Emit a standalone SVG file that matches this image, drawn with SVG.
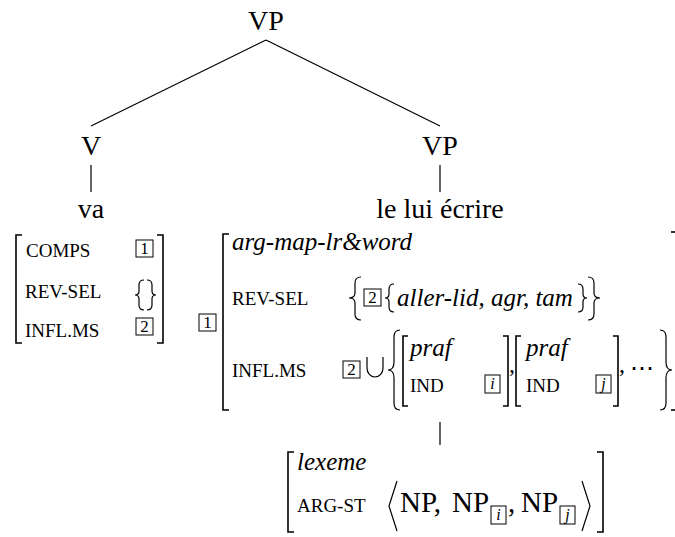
<svg xmlns="http://www.w3.org/2000/svg" width="675" height="537" viewBox="0 0 675 537" font-family="'Liberation Serif', 'Times New Roman', Tinos, 'DejaVu Serif', serif">
<style>
text{font-family:"Liberation Serif","Times New Roman",Tinos,"DejaVu Serif",serif;fill:#000}
.t{font-size:28px;text-anchor:middle}
.sc{font-size:19px}
.it{font-size:25px;font-style:italic}
.np{font-size:29px}
.bn{font-size:17px;text-anchor:middle}
.bi{font-size:16px;text-anchor:middle;font-style:italic}
.cu{font-family:"DejaVu Sans",sans-serif;font-size:26px}
.ln{stroke:#000;stroke-width:1.2;fill:none}
.br{stroke:#000;stroke-width:1.6;fill:none}
.bx{stroke:#000;stroke-width:1;fill:none}
</style>
<g id="connectors">
<line class="ln" x1="266" y1="40" x2="91" y2="126"/>
<line class="ln" x1="266" y1="40" x2="440" y2="126"/>
<line class="ln" x1="91" y1="165" x2="91" y2="192"/>
<line class="ln" x1="440" y1="165" x2="440" y2="192"/>
<line class="ln" x1="440" y1="422" x2="440" y2="445"/>
</g>
<g id="vp-top"><text class="t" x="266" y="30">VP</text></g>
<g id="v"><text class="t" x="91" y="155">V</text></g>
<g id="vp-right"><text class="t" x="440" y="155">VP</text></g>
<g id="va"><text class="t" x="91" y="218">va</text></g>
<g id="le-lui-ecrire"><text class="t" x="440" y="218">le lui écrire</text></g>

<g id="avm-va">
<path class="br" d="M22,235 H16 V343 H22"/>
<path class="br" d="M157,235 H163 V343 H157"/>
<text class="sc" x="26" y="257">COMPS</text>
<rect class="bx" x="136" y="240" width="17" height="17"/><text class="bn" x="144.5" y="254">1</text>
<text class="sc" x="25" y="298">REV-SEL</text>
<path class="ln" d="M144,280 Q139,280 139,285 V291 Q139,295 135,295 Q139,295 139,299 V305 Q139,310 144,310"/>
<path class="ln" d="M147,280 Q152,280 152,285 V291 Q152,295 156,295 Q152,295 152,299 V305 Q152,310 147,310"/>
<text class="sc" x="25" y="337">INFL.MS</text>
<rect class="bx" x="136" y="318" width="17" height="17"/><text class="bn" x="144.5" y="332">2</text>
</g>

<g id="tag1">
<rect class="bx" x="199" y="314" width="17" height="17"/><text class="bn" x="207.5" y="328">1</text>
</g>

<g id="avm-lelui">
<path class="br" d="M229,234 H223 V410 H229"/>
<path class="br" d="M671,232 H675"/>
<path class="br" d="M671,410 H675"/>
<text class="it" x="232" y="250">arg-map-lr&amp;word</text>
<text class="sc" x="232" y="305">REV-SEL</text>
<path class="ln" d="M361,277 Q355,277 355,283 V293 Q355,298 349,298 Q355,298 355,303 V314 Q355,320 361,320"/>
<rect class="bx" x="364" y="289" width="17" height="17"/><text class="bn" x="372.5" y="303">2</text>
<path class="ln" d="M394,284 Q389,284 389,289 V294 Q389,298 385,298 Q389,298 389,302 V307 Q389,312 394,312"/>
<text class="it" x="397" y="306">aller-lid, agr, tam</text>
<path class="ln" d="M578,284 Q583,284 583,289 V294 Q583,298 587,298 Q583,298 583,302 V307 Q583,312 578,312"/>
<path class="ln" d="M588,277 Q594,277 594,283 V293 Q594,298 600,298 Q594,298 594,303 V314 Q594,320 588,320"/>
<text class="sc" x="232" y="377">INFL.MS</text>
<rect class="bx" x="343" y="361" width="17" height="17"/><text class="bn" x="351.5" y="375">2</text>
<path class="ln" d="M367,357 V368 A8,9 0 0 0 383,368 V357"/>
<path class="ln" d="M400,330 Q394,330 394,337 V362 Q394,370 388,370 Q394,370 394,378 V403 Q394,410 400,410"/>
<path class="br" d="M408,336 H403 V406 H408"/>
<text class="it" x="410" y="356">praf</text>
<text class="sc" x="410" y="392">IND</text>
<rect class="bx" x="485" y="375" width="15" height="18"/><text class="bi" x="492.5" y="389">i</text>
<path class="br" d="M503,336 H508 V406 H503"/>
<text style="font-size:24px" x="509" y="372">,</text>
<path class="br" d="M521,336 H516 V406 H521"/>
<text class="it" x="526" y="356">praf</text>
<text class="sc" x="526" y="392">IND</text>
<rect class="bx" x="596" y="375" width="15" height="18"/><text class="bi" x="603.5" y="389">j</text>
<path class="br" d="M613,336 H618 V406 H613"/>
<text style="font-size:24px" x="619" y="372">,</text>
<text style="font-size:24px" x="630" y="376">⋯</text>
<path class="ln" d="M660,330 Q666,330 666,337 V362 Q666,370 672,370 Q666,370 666,378 V403 Q666,410 660,410"/>
</g>

<g id="avm-lexeme">
<path class="br" d="M294,452 H288 V532 H294"/>
<path class="br" d="M597,452 H603 V532 H597"/>
<text class="it" x="297" y="470">lexeme</text>
<text class="sc" x="297" y="512">ARG-ST</text>
<path class="ln" d="M397,481 L389,506 L397,531"/>
<text class="np" x="400" y="512">NP,</text>
<text class="np" x="452" y="512">NP</text>
<rect class="bx" x="491" y="506" width="15" height="18"/><text class="bi" x="498.5" y="520">i</text>
<text class="np" x="508" y="512">,</text>
<text class="np" x="521" y="512">NP</text>
<rect class="bx" x="560" y="506" width="15" height="18"/><text class="bi" x="567.5" y="520">j</text>
<path class="ln" d="M582,481 L590,506 L582,531"/>
</g>
</svg>
